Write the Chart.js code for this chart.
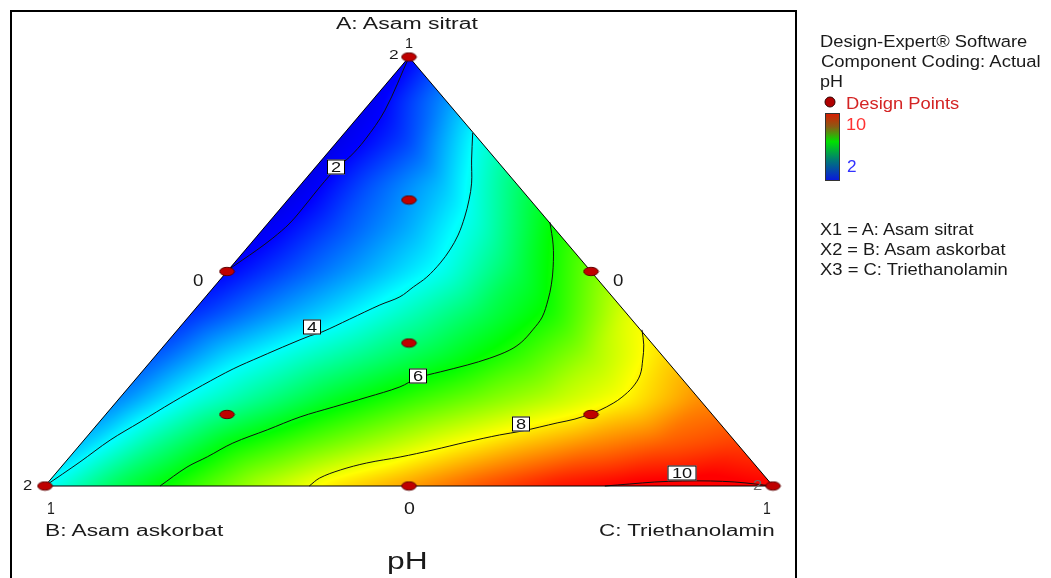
<!DOCTYPE html>
<html><head><meta charset="utf-8">
<script src="https://cdn.jsdelivr.net/npm/chart.js@4.4.0/dist/chart.umd.min.js"></script>
<style>
html,body{margin:0;padding:0;background:#fff;}
#wrap{position:relative;width:1051px;height:578px;overflow:hidden;background:#fff;}
#c{position:absolute;left:0;top:0;}
.t{position:absolute;white-space:nowrap;font-family:"Liberation Sans",Arial,sans-serif;line-height:1;color:#1a1a1a;transform-origin:0 0;}
#frame{position:absolute;left:10px;top:10px;width:783px;height:620px;border:2px solid #000;}
</style></head>
<body><div id="wrap"><div id="frame"></div><canvas id="c" width="1051" height="578"></canvas></div>
<script>
// ---------------- DATA ----------------
const componentNames = ["A: Asam sitrat", "B: Asam askorbat", "C: Triethanolamin"];
const responseName = "pH";
const legendHeader = ["Design-Expert\u00AE Software", "Component Coding: Actual", "pH"];
const legendPointsLabel = "Design Points";
const colorRangeLabels = ["10", "2"];
const vertexTicks = ["1", "1", "1"];      // A, B, C vertex ticks
const edgeTicks = ["0", "0", "0"];        // opposite-edge ticks
const replicateCounts = ["2", "2", "2"];  // replicates at A, B, C vertices

// design points as [A, B, C]
const designPoints = [
  [1, 0, 0], [0, 1, 0], [0, 0, 1],
  [0.5, 0.5, 0], [0.5, 0, 0.5], [0, 0.5, 0.5],
  [1/3, 1/3, 1/3],
  [2/3, 1/6, 1/6], [1/6, 2/3, 1/6], [1/6, 1/6, 2/3]
];

// estimated pH on a lattice: row = A (0,0.1..1), entries = C (0,0.1,..)
const pH_A00 = [4.0, 5.4, 6.4, 7.45, 8.25, 8.8, 9.4, 9.88, 10.1, 10.2, 10.0];
const pH_A01 = [3.5, 4.8, 5.9, 6.6, 7.25, 7.9, 8.45, 8.9, 9.25, 9.5];
const pH_A02 = [3.05, 4.16, 4.96, 5.76, 6.4, 6.96, 7.5, 8.08, 8.9];
const pH_A03 = [2.7, 3.7, 4.4, 5.03, 5.65, 6.4, 7.3, 8.3];
const pH_A04 = [2.35, 3.08, 3.76, 4.53, 5.34, 6.2, 7.8];
const pH_A05 = [2.0, 2.7, 3.4, 4.15, 5.4, 6.9];
const pH_A06 = [1.8, 2.58, 3.35, 4.4, 6.1];
const pH_A07 = [1.7, 2.69, 3.55, 5.18];
const pH_A08 = [1.7, 2.55, 4.22];
const pH_A09 = [1.8, 3.13];
const pH_A10 = [1.95];
const pHLattice = [pH_A00, pH_A01, pH_A02, pH_A03, pH_A04, pH_A05, pH_A06, pH_A07, pH_A08, pH_A09, pH_A10];

// contour lines as [A, C] pairs (B = 1 - A - C)
const contourLevels = [2, 4, 6, 8, 10];
const contour2 = [[1.0,0.0],[0.876,0.029],[0.807,0.036],[0.767,0.035],[0.744,0.030],[0.697,0.029],[0.660,0.030],[0.613,0.030],[0.578,0.024],[0.550,0.016],[0.527,0.008],[0.505,0.0]];
const contour4 = [[0.823,0.176],[0.760,0.206],[0.706,0.233],[0.667,0.249],[0.627,0.263],[0.585,0.275],[0.550,0.281],[0.520,0.283],[0.487,0.281],[0.464,0.274],[0.441,0.267],[0.422,0.249],[0.389,0.224],[0.359,0.201],[0.350,0.189],[0.331,0.171],[0.301,0.145],[0.273,0.122],[0.235,0.099],[0.196,0.078],[0.149,0.056],[0.107,0.036],[0.056,0.020],[0.0,0.0]];
const contour6 = [[0.615,0.386],[0.562,0.417],[0.510,0.443],[0.469,0.461],[0.434,0.474],[0.394,0.486],[0.364,0.488],[0.336,0.487],[0.317,0.480],[0.298,0.462],[0.282,0.439],[0.266,0.410],[0.252,0.386],[0.231,0.372],[0.207,0.339],[0.184,0.304],[0.161,0.270],[0.131,0.240],[0.100,0.208],[0.068,0.189],[0.044,0.173],[0.0,0.158]];
const contour8 = [[0.364,0.638],[0.329,0.658],[0.294,0.674],[0.259,0.688],[0.231,0.692],[0.207,0.689],[0.193,0.684],[0.177,0.674],[0.168,0.665],[0.156,0.650],[0.147,0.630],[0.1375,0.611],[0.128,0.591],[0.119,0.565],[0.1026,0.528],[0.084,0.491],[0.0676,0.454],[0.0536,0.415],[0.0373,0.387],[0.0186,0.368],[0.0,0.363]];
const contour10 = [[0.0,0.769],[0.0047,0.801],[0.0093,0.833],[0.0117,0.870],[0.0117,0.908],[0.0093,0.943],[0.0047,0.973],[0.0,0.998]];
const contours = [contour2, contour4, contour6, contour8, contour10];
// contour label anchors [A, C]
const contourLabelAt = [[0.744,0.028],[0.371,0.181],[0.256,0.384],[0.1445,0.582],[0.0303,0.860]];

// ---------------- HELPERS ----------------
const toXY = (A, C) => ({x: C + A / 2, y: A});

function latticeValue(A, C) {
  const a = A * 10, c = C * 10;
  const i0 = Math.max(0, Math.min(Math.floor(a), 9));
  const fa = a - i0;
  let k0 = Math.max(0, Math.floor(c));
  if (i0 + k0 > 9) k0 = 9 - i0;
  const fc = c - k0;
  const g = (i, k) => pHLattice[i][k];
  if (fa + fc <= 1 || i0 + k0 + 2 > 10) {
    return g(i0, k0) * (1 - fa - fc) + g(i0 + 1, k0) * fa + g(i0, k0 + 1) * fc;
  }
  return g(i0 + 1, k0 + 1) * (fa + fc - 1) + g(i0 + 1, k0) * (1 - fc) + g(i0, k0 + 1) * (1 - fa);
}

function colorFor(v) {
  let t = (v - 2) / 8;
  let bright = 1;
  if (t < 0) { bright = Math.max(0.82, 1 - 0.3 * (2 - v)); t = 0; }
  if (t > 1) t = 1;
  const h = 240 * (1 - t);
  const hh = h / 60;
  const x = 1 - Math.abs((hh % 2) - 1);
  let r, g, b;
  if (hh < 1) { r = 1; g = x; b = 0; }
  else if (hh < 2) { r = x; g = 1; b = 0; }
  else if (hh < 3) { r = 0; g = 1; b = x; }
  else { r = 0; g = x; b = 1; }
  return [r * 255 * bright, g * 255 * bright, b * 255 * bright];
}

function boxBlur(src, W, H, r) {
  const tmp = new Float32Array(W * H);
  const n = 2 * r + 1;
  for (let j = 0; j < H; j++) {
    const row = j * W;
    let sum = 0;
    for (let i = -r; i <= r; i++) sum += src[row + Math.min(W - 1, Math.max(0, i))];
    for (let i = 0; i < W; i++) {
      tmp[row + i] = sum / n;
      sum += src[row + Math.min(W - 1, i + r + 1)] - src[row + Math.max(0, i - r)];
    }
  }
  for (let i = 0; i < W; i++) {
    let sum = 0;
    for (let j = -r; j <= r; j++) sum += tmp[Math.min(H - 1, Math.max(0, j)) * W + i];
    for (let j = 0; j < H; j++) {
      src[j * W + i] = sum / n;
      sum += tmp[Math.min(H - 1, j + r + 1) * W + i] - tmp[Math.max(0, j - r) * W + i];
    }
  }
}

let fillCache = null;
const ternaryFill = {
  id: 'ternaryFill',
  beforeDatasetsDraw(chart) {
    const {ctx, chartArea, scales} = chart;
    const sx = scales.x, sy = scales.y;
    if (!fillCache) {
      const x0 = Math.floor(chartArea.left) - 3, y0 = Math.floor(chartArea.top) - 3;
      const W = Math.ceil(chartArea.right) + 3 - x0, H = Math.ceil(chartArea.bottom) + 3 - y0;
      const vals = new Float32Array(W * H);
      const inside = new Uint8Array(W * H);
      const X = new Float64Array(W), Y = new Float64Array(H);
      for (let i = 0; i < W; i++) X[i] = sx.getValueForPixel(x0 + i + 0.5);
      for (let j = 0; j < H; j++) Y[j] = sy.getValueForPixel(y0 + j + 0.5);
      for (let j = 0; j < H; j++) {
        for (let i = 0; i < W; i++) {
          const A = Y[j], C = X[i] - Y[j] / 2, B = 1 - A - C;
          const idx = j * W + i;
          if (A >= 0 && B >= 0 && C >= 0) inside[idx] = 1;
          let a = Math.max(A, 0), b = Math.max(B, 0), c = Math.max(C, 0);
          const s = a + b + c; a /= s; c /= s;
          a = Math.min(a, 1); c = Math.max(0, Math.min(c, 1 - a));
          let v = latticeValue(a, c);
          if (!isFinite(v)) v = 6;
          vals[idx] = v;
        }
      }
      boxBlur(vals, W, H, 7);
      boxBlur(vals, W, H, 7);
      const off = document.createElement('canvas');
      off.width = W; off.height = H;
      const octx = off.getContext('2d');
      const img = octx.createImageData(W, H);
      for (let idx = 0; idx < W * H; idx++) {
        if (!inside[idx]) continue;
        const col = colorFor(vals[idx]);
        img.data[idx * 4] = col[0]; img.data[idx * 4 + 1] = col[1];
        img.data[idx * 4 + 2] = col[2]; img.data[idx * 4 + 3] = 255;
      }
      octx.putImageData(img, 0, 0);
      fillCache = {off, x0, y0};
    }
    ctx.drawImage(fillCache.off, fillCache.x0, fillCache.y0);
  }
};

const contourLabels = {
  id: 'contourLabels',
  afterDatasetsDraw(chart) {
    const {ctx, scales} = chart;
    ctx.save();
    contourLabelAt.forEach((p, i) => {
      const txt = String(contourLevels[i]);
      const q = toXY(p[0], p[1]);
      const px = Math.round(scales.x.getPixelForValue(q.x));
      const py = Math.round(scales.y.getPixelForValue(q.y));
      const w = txt.length > 1 ? 29 : 18, h = 15;
      ctx.fillStyle = '#fff';
      ctx.fillRect(px - w / 2, py - h / 2, w, h);
      ctx.strokeStyle = '#000';
      ctx.lineWidth = 1;
      ctx.strokeRect(px - w / 2 + 0.5, py - h / 2 + 0.5, w - 1, h - 1);
      ctx.save();
      ctx.translate(px, py + 1);
      ctx.scale(1.3, 1);
      ctx.fillStyle = '#111';
      ctx.font = '14px "Liberation Sans", Arial, sans-serif';
      ctx.textAlign = 'center';
      ctx.textBaseline = 'middle';
      ctx.fillText(txt, 0, 0);
      ctx.restore();
    });
    ctx.restore();
  },
  afterDraw(chart) {
    const ctx = chart.ctx;
    ctx.save();
    // legend design-point marker
    ctx.beginPath();
    ctx.arc(830, 102, 5, 0, Math.PI * 2);
    ctx.fillStyle = '#b00000';
    ctx.fill();
    ctx.strokeStyle = '#300000';
    ctx.lineWidth = 1;
    ctx.stroke();
    // colour bar
    const g = ctx.createLinearGradient(0, 113, 0, 181);
    g.addColorStop(0, 'rgb(220,25,0)');
    g.addColorStop(0.2, 'rgb(140,90,20)');
    g.addColorStop(0.42, 'rgb(0,225,0)');
    g.addColorStop(0.7, 'rgb(0,120,120)');
    g.addColorStop(1, 'rgb(10,20,225)');
    ctx.fillStyle = g;
    ctx.fillRect(825, 113, 15, 68);
    ctx.strokeStyle = '#333';
    ctx.strokeRect(825.5, 113.5, 14, 67);
    ctx.restore();
  }
};

// point marker image (ellipse)
const dot = document.createElement('canvas');
dot.width = 17; dot.height = 11;
(function () {
  const d = dot.getContext('2d');
  d.beginPath();
  d.ellipse(8.5, 5.5, 7.3, 4.2, 0, 0, Math.PI * 2);
  d.fillStyle = '#bf0000';
  d.fill();
  d.strokeStyle = '#5a0000';
  d.lineWidth = 1;
  d.stroke();
})();

const triangle = [[1, 0, 0], [0, 1, 0], [0, 0, 1], [1, 0, 0]];

new Chart(document.getElementById('c'), {
  type: 'scatter',
  data: {
    datasets: [
      { label: legendPointsLabel, data: designPoints.map(p => toXY(p[0], p[2])),
        pointStyle: dot, pointRadius: 8, order: 0, clip: false },
      { label: 'edges', data: triangle.map(p => toXY(p[0], p[2])), showLine: true,
        borderColor: '#000', borderWidth: 1, pointRadius: 0, tension: 0, order: 1, clip: false },
      ...contours.map((c, i) => ({
        label: responseName + ' ' + contourLevels[i], data: c.map(p => toXY(p[0], p[1])),
        showLine: true, borderColor: '#111', borderWidth: 1, pointRadius: 0,
        tension: 0.35, order: 2, clip: false
      }))
    ]
  },
  options: {
    responsive: false, animation: false, devicePixelRatio: 1, events: [],
    layout: { padding: { left: 45, right: 278, top: 57, bottom: 92 } },
    scales: {
      x: { type: 'linear', min: 0, max: 1, display: false },
      y: { type: 'linear', min: 0, max: 1, display: false }
    },
    plugins: { legend: { display: false }, tooltip: { enabled: false }, title: { display: false } }
  },
  plugins: [ternaryFill, contourLabels]
});

// ---------------- TEXT ----------------
const wrap = document.getElementById('wrap');
const mctx = document.createElement('canvas').getContext('2d');
function addText(str, o) {
  const size = o.size, align = o.align || 'left';
  const font = size + 'px "Liberation Sans", Arial, sans-serif';
  mctx.font = font;
  const m = mctx.measureText(str);
  const inkL = -m.actualBoundingBoxLeft, inkR = m.actualBoundingBoxRight;
  const s = o.w ? o.w / (inkR - inkL) : 1;
  let pen;
  if (align === 'left') pen = o.x - s * inkL;
  else if (align === 'center') pen = o.x - s * (inkL + inkR) / 2;
  else pen = o.x - s * inkR;
  const el = document.createElement('div');
  el.className = 't';
  el.textContent = str;
  el.style.font = font;
  el.style.lineHeight = '1';
  if (o.color) el.style.color = o.color;
  el.style.left = pen + 'px';
  el.style.top = (o.base - 0.8465 * size) + 'px';
  el.style.transform = 'scaleX(' + s + ')';
  wrap.appendChild(el);
}
addText(componentNames[0], {x: 336, base: 30, size: 16, w: 144});
addText(vertexTicks[0], {x: 409.5, base: 48, size: 15.5, w: 6.5, align: 'center'});
addText(replicateCounts[0], {x: 393, base: 59.5, size: 13.5, w: 9, align: 'center'});
addText(edgeTicks[2], {x: 198.5, base: 287, size: 16, w: 10.5, align: 'center'});
addText(edgeTicks[1], {x: 618.5, base: 287, size: 16, w: 10.5, align: 'center'});
addText(vertexTicks[1], {x: 51, base: 515, size: 16, w: 7, align: 'center'});
addText(edgeTicks[0], {x: 409, base: 515, size: 16, w: 11, align: 'center'});
addText(vertexTicks[2], {x: 767.5, base: 515, size: 16, w: 7, align: 'center'});
addText(replicateCounts[1], {x: 28, base: 490, size: 14, w: 9.5, align: 'center'});
addText(replicateCounts[2], {x: 758, base: 490, size: 14, w: 9.5, align: 'center', color: '#6a6a6a'});
addText(componentNames[1], {x: 46, base: 536.5, size: 15.8, w: 179});
addText(componentNames[2], {x: 599, base: 536.5, size: 15.8, w: 175});
addText(responseName, {x: 388, base: 569, size: 23, w: 37});

addText(legendHeader[0], {x: 821, base: 46.7, size: 16.3, w: 206});
addText(legendHeader[1], {x: 821, base: 66.7, size: 16.3, w: 220});
addText(legendHeader[2], {x: 821, base: 86.7, size: 16.3, w: 21});
addText(legendPointsLabel, {x: 847, base: 108.3, size: 16.3, w: 112, color: '#d42424'});
addText(colorRangeLabels[0], {x: 847, base: 129.3, size: 16.3, w: 19, color: '#ff3232'});
addText(colorRangeLabels[1], {x: 847, base: 171.7, size: 16.3, w: 9.5, color: '#3232ff'});
addText('X1 = ' + componentNames[0], {x: 820, base: 235, size: 16.3, w: 156});
addText('X2 = ' + componentNames[1], {x: 820, base: 255, size: 16.3, w: 187});
addText('X3 = ' + componentNames[2], {x: 820, base: 275, size: 16.3, w: 187});
</script>
</body></html>
